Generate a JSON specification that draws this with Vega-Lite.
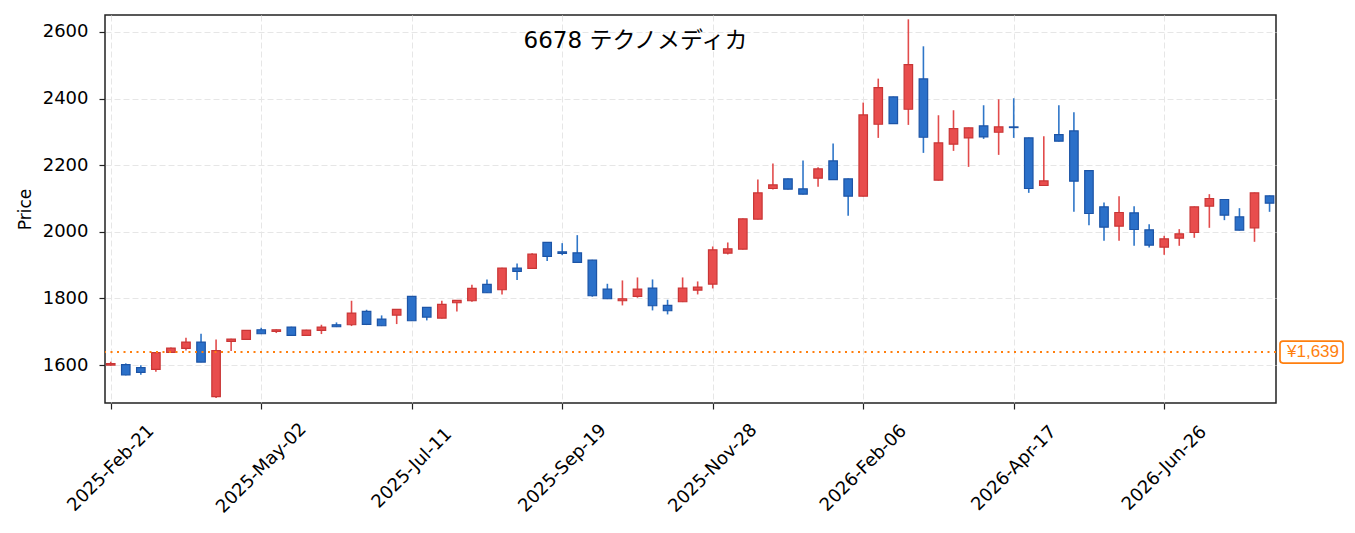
{
  "$schema": "https://vega.github.io/schema/vega-lite/v6.json",
  "autosize": "none",
  "width": 1171,
  "height": 388,
  "padding": {"left": 105, "top": 15, "right": 79, "bottom": 130},
  "background": "white",
  "title": {
    "text": "6678 テクノメディカ",
    "orient": "top",
    "anchor": "middle",
    "frame": "group",
    "baseline": "alphabetic",
    "offset": -56,
    "dx": -55,
    "font": "DejaVu Sans, Noto Sans CJK JP",
    "fontSize": 23,
    "fontWeight": "normal",
    "color": "#000000"
  },
  "config": {
    "font": "DejaVu Sans",
    "view": {"stroke": "#222222", "strokeWidth": 1.5},
    "axis": {
      "labelFont": "DejaVu Sans",
      "labelFontSize": 18,
      "labelColor": "#000000",
      "titleFont": "DejaVu Sans",
      "titleFontSize": 17,
      "titleFontWeight": "normal",
      "titleColor": "#000000",
      "tickColor": "#222222",
      "tickWidth": 1.2,
      "tickSize": 6,
      "domain": false,
      "gridColor": "#e6e6e6",
      "gridDash": [6, 3],
      "gridWidth": 1
    }
  },
  "datasets": {
    "candles": [
      {"d": "2025-02-21", "o": 1600, "h": 1610, "l": 1598, "c": 1604},
      {"d": "2025-02-28", "o": 1601, "h": 1605, "l": 1569, "c": 1570},
      {"d": "2025-03-07", "o": 1592, "h": 1599, "l": 1571, "c": 1578},
      {"d": "2025-03-14", "o": 1587, "h": 1638, "l": 1580, "c": 1637},
      {"d": "2025-03-21", "o": 1638, "h": 1653, "l": 1636, "c": 1651},
      {"d": "2025-03-28", "o": 1650, "h": 1682, "l": 1644, "c": 1669},
      {"d": "2025-04-04", "o": 1669, "h": 1694, "l": 1608, "c": 1609},
      {"d": "2025-04-11", "o": 1505, "h": 1677, "l": 1501, "c": 1643},
      {"d": "2025-04-18", "o": 1671, "h": 1679, "l": 1642, "c": 1678},
      {"d": "2025-04-25", "o": 1677, "h": 1705, "l": 1676, "c": 1704},
      {"d": "2025-05-02", "o": 1706, "h": 1712, "l": 1693, "c": 1694},
      {"d": "2025-05-09", "o": 1701, "h": 1707, "l": 1696, "c": 1706},
      {"d": "2025-05-16", "o": 1714, "h": 1715, "l": 1688, "c": 1689},
      {"d": "2025-05-23", "o": 1689, "h": 1706, "l": 1688, "c": 1705},
      {"d": "2025-05-30", "o": 1704, "h": 1721, "l": 1693, "c": 1714},
      {"d": "2025-06-06", "o": 1721, "h": 1728, "l": 1714, "c": 1715},
      {"d": "2025-06-13", "o": 1721, "h": 1793, "l": 1717, "c": 1756},
      {"d": "2025-06-20", "o": 1761, "h": 1766, "l": 1720, "c": 1722},
      {"d": "2025-06-27", "o": 1738, "h": 1749, "l": 1717, "c": 1718},
      {"d": "2025-07-04", "o": 1750, "h": 1768, "l": 1723, "c": 1767},
      {"d": "2025-07-11", "o": 1806, "h": 1807, "l": 1733, "c": 1733},
      {"d": "2025-07-18", "o": 1773, "h": 1774, "l": 1734, "c": 1744},
      {"d": "2025-07-25", "o": 1741, "h": 1793, "l": 1740, "c": 1782},
      {"d": "2025-08-01", "o": 1787, "h": 1795, "l": 1761, "c": 1794},
      {"d": "2025-08-08", "o": 1793, "h": 1841, "l": 1790, "c": 1830},
      {"d": "2025-08-15", "o": 1842, "h": 1857, "l": 1816, "c": 1817},
      {"d": "2025-08-22", "o": 1826, "h": 1892, "l": 1812, "c": 1891},
      {"d": "2025-08-29", "o": 1891, "h": 1905, "l": 1855, "c": 1881},
      {"d": "2025-09-05", "o": 1890, "h": 1936, "l": 1889, "c": 1933},
      {"d": "2025-09-12", "o": 1968, "h": 1969, "l": 1912, "c": 1926},
      {"d": "2025-09-19", "o": 1940, "h": 1966, "l": 1930, "c": 1935},
      {"d": "2025-09-26", "o": 1937, "h": 1990, "l": 1907, "c": 1908},
      {"d": "2025-10-03", "o": 1915, "h": 1916, "l": 1805, "c": 1808},
      {"d": "2025-10-10", "o": 1828, "h": 1844, "l": 1798, "c": 1799},
      {"d": "2025-10-17", "o": 1793, "h": 1854, "l": 1779, "c": 1799},
      {"d": "2025-10-24", "o": 1806, "h": 1863, "l": 1802, "c": 1828},
      {"d": "2025-10-31", "o": 1831, "h": 1857, "l": 1764, "c": 1778},
      {"d": "2025-11-07", "o": 1779, "h": 1796, "l": 1752, "c": 1763},
      {"d": "2025-11-14", "o": 1790, "h": 1863, "l": 1789, "c": 1831},
      {"d": "2025-11-21", "o": 1825, "h": 1851, "l": 1812, "c": 1834},
      {"d": "2025-11-28", "o": 1843, "h": 1956, "l": 1830, "c": 1946},
      {"d": "2025-12-05", "o": 1936, "h": 1968, "l": 1932, "c": 1949},
      {"d": "2025-12-12", "o": 1948, "h": 2040, "l": 1947, "c": 2039},
      {"d": "2025-12-19", "o": 2038, "h": 2157, "l": 2037, "c": 2117},
      {"d": "2025-12-26", "o": 2130, "h": 2205, "l": 2127, "c": 2141},
      {"d": "2026-01-02", "o": 2159, "h": 2160, "l": 2127, "c": 2128},
      {"d": "2026-01-09", "o": 2129, "h": 2214, "l": 2112, "c": 2113},
      {"d": "2026-01-16", "o": 2161, "h": 2194, "l": 2135, "c": 2189},
      {"d": "2026-01-23", "o": 2213, "h": 2265, "l": 2156, "c": 2157},
      {"d": "2026-01-30", "o": 2159, "h": 2160, "l": 2048, "c": 2107},
      {"d": "2026-02-06", "o": 2107, "h": 2388, "l": 2106, "c": 2351},
      {"d": "2026-02-13", "o": 2323, "h": 2460, "l": 2282, "c": 2433},
      {"d": "2026-02-20", "o": 2405, "h": 2406, "l": 2324, "c": 2325},
      {"d": "2026-02-27", "o": 2368, "h": 2638, "l": 2321, "c": 2502},
      {"d": "2026-03-06", "o": 2459, "h": 2557, "l": 2237, "c": 2284},
      {"d": "2026-03-13", "o": 2155, "h": 2350, "l": 2154, "c": 2267},
      {"d": "2026-03-20", "o": 2263, "h": 2365, "l": 2243, "c": 2310},
      {"d": "2026-03-27", "o": 2282, "h": 2313, "l": 2195, "c": 2312},
      {"d": "2026-04-03", "o": 2318, "h": 2380, "l": 2279, "c": 2285},
      {"d": "2026-04-10", "o": 2299, "h": 2398, "l": 2231, "c": 2315},
      {"d": "2026-04-17", "o": 2315, "h": 2401, "l": 2282, "c": 2313},
      {"d": "2026-04-24", "o": 2282, "h": 2283, "l": 2117, "c": 2130},
      {"d": "2026-05-01", "o": 2139, "h": 2287, "l": 2138, "c": 2153},
      {"d": "2026-05-08", "o": 2292, "h": 2380, "l": 2271, "c": 2272},
      {"d": "2026-05-15", "o": 2303, "h": 2359, "l": 2060, "c": 2152},
      {"d": "2026-05-22", "o": 2184, "h": 2185, "l": 2020, "c": 2055},
      {"d": "2026-05-29", "o": 2075, "h": 2088, "l": 1973, "c": 2014},
      {"d": "2026-06-05", "o": 2017, "h": 2107, "l": 1973, "c": 2058},
      {"d": "2026-06-12", "o": 2057, "h": 2077, "l": 1958, "c": 2007},
      {"d": "2026-06-19", "o": 2006, "h": 2023, "l": 1953, "c": 1960},
      {"d": "2026-06-26", "o": 1954, "h": 1988, "l": 1931, "c": 1979},
      {"d": "2026-07-03", "o": 1981, "h": 2008, "l": 1958, "c": 1994},
      {"d": "2026-07-10", "o": 1998, "h": 2076, "l": 1982, "c": 2075},
      {"d": "2026-07-17", "o": 2077, "h": 2113, "l": 2012, "c": 2100},
      {"d": "2026-07-24", "o": 2097, "h": 2098, "l": 2035, "c": 2050},
      {"d": "2026-07-31", "o": 2045, "h": 2071, "l": 2004, "c": 2005},
      {"d": "2026-08-07", "o": 2012, "h": 2118, "l": 1970, "c": 2117},
      {"d": "2026-08-14", "o": 2108, "h": 2109, "l": 2060, "c": 2086}
    ],
    "refline": [
      {"price": 1639, "label": "¥1,639", "d": "2026-08-17"}
    ]
  },
  "layer": [
    {
      "data": {"name": "candles"},
      "mark": {"type": "rule", "strokeWidth": 1.6},
      "encoding": {
        "x": {
          "field": "d",
          "type": "temporal",
          "title": null,
          "scale": {
            "type": "utc",
            "padding": 0,
            "domain": [
              {"year": 2025, "month": 2, "date": 18, "hours": 8, "utc": true},
              {"year": 2026, "month": 8, "date": 17, "utc": true}
            ]
          },
          "axis": {
            "values": [
              {"year": 2025, "month": 2, "date": 21, "utc": true},
              {"year": 2025, "month": 5, "date": 2, "utc": true},
              {"year": 2025, "month": 7, "date": 11, "utc": true},
              {"year": 2025, "month": 9, "date": 19, "utc": true},
              {"year": 2025, "month": 11, "date": 28, "utc": true},
              {"year": 2026, "month": 2, "date": 6, "utc": true},
              {"year": 2026, "month": 4, "date": 17, "utc": true},
              {"year": 2026, "month": 6, "date": 26, "utc": true}
            ],
            "labelExpr": "utcFormat(datum.value, '%Y-%b-%d')",
            "labelAngle": -45,
            "labelAlign": "center",
            "labelBaseline": "middle",
            "labelPadding": 59,
            "labelOverlap": false,
            "grid": true
          }
        },
        "y": {
          "field": "l",
          "type": "quantitative",
          "title": "Price",
          "scale": {"domain": [1486, 2651], "nice": false, "zero": false, "padding": 0},
          "axis": {
            "values": [1600, 1800, 2000, 2200, 2400, 2600],
            "format": "d",
            "labelPadding": 11,
            "titlePadding": 8,
            "grid": true
          }
        },
        "y2": {"field": "h"},
        "stroke": {
          "condition": {"test": "datum.c >= datum.o", "value": "#e24c4c"},
          "value": "#2f76c8"
        }
      }
    },
    {
      "data": {"name": "candles"},
      "mark": {"type": "bar", "width": 8.5, "strokeWidth": 1.2},
      "encoding": {
        "x": {"field": "d", "type": "temporal"},
        "y": {"field": "o", "type": "quantitative"},
        "y2": {"field": "c"},
        "fill": {
          "condition": {"test": "datum.c >= datum.o", "value": "#e84d4d"},
          "value": "#2b70c9"
        },
        "stroke": {
          "condition": {"test": "datum.c >= datum.o", "value": "#c93636"},
          "value": "#1c54a6"
        }
      }
    },
    {
      "data": {"name": "refline"},
      "mark": {"type": "rule", "stroke": "#ff7f0e", "strokeWidth": 2, "strokeDash": [2, 4.5]},
      "encoding": {
        "y": {"field": "price", "type": "quantitative"}
      }
    },
    {
      "data": {"name": "refline"},
      "mark": {
        "type": "rect",
        "fill": "white",
        "stroke": "#ff7f0e",
        "strokeWidth": 1.7,
        "cornerRadius": 3,
        "xOffset": 4,
        "x2Offset": 67,
        "yOffset": -11,
        "y2Offset": 11
      },
      "encoding": {
        "x": {"field": "d", "type": "temporal"},
        "x2": {"field": "d"},
        "y": {"field": "price", "type": "quantitative"},
        "y2": {"field": "price"}
      }
    },
    {
      "data": {"name": "refline"},
      "mark": {
        "type": "text",
        "align": "left",
        "baseline": "middle",
        "dx": 11,
        "fontSize": 17,
        "font": "Liberation Sans",
        "color": "#ff7f0e"
      },
      "encoding": {
        "x": {"field": "d", "type": "temporal"},
        "y": {"field": "price", "type": "quantitative"},
        "text": {"field": "label"}
      }
    }
  ]
}
